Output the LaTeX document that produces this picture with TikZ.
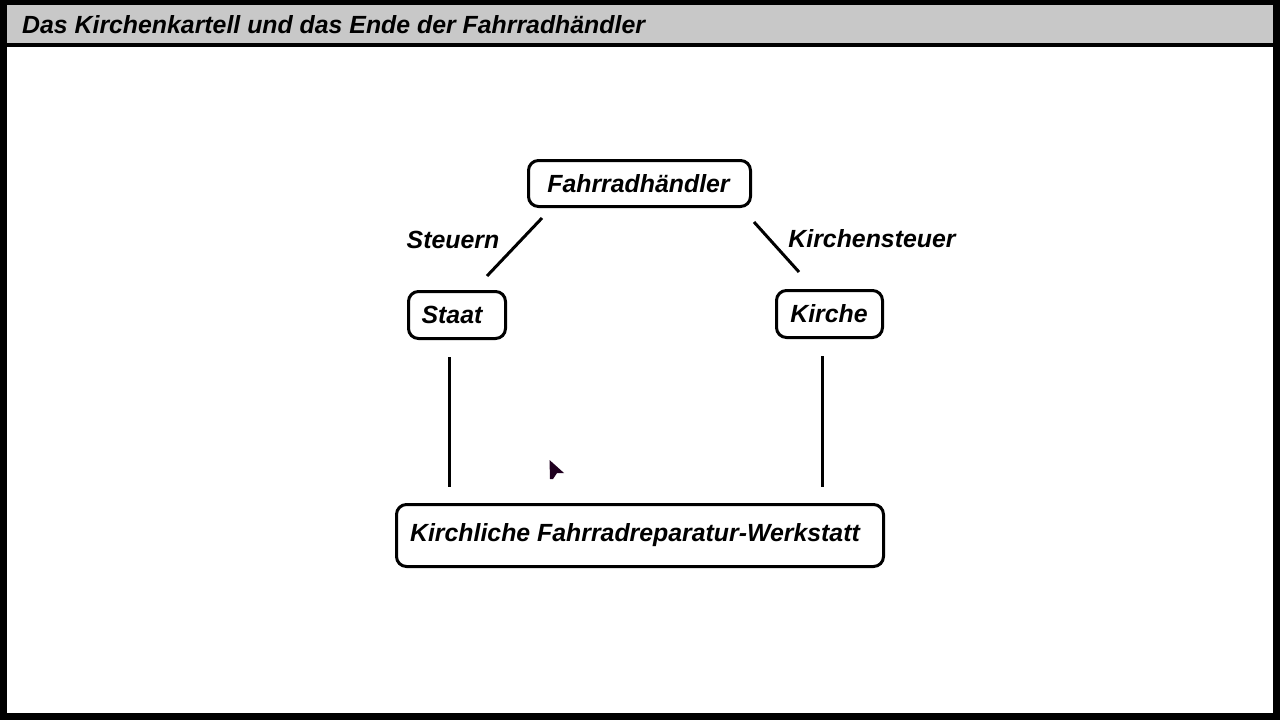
\documentclass[tikz,border=0pt]{standalone}
\usepackage{fontspec}
\setmainfont{Liberation Sans}
\usetikzlibrary{shapes, arrows}
\definecolor{titlegrey}{RGB}{200,200,200}
\tikzstyle{kasten} = [rectangle, draw, line width=3pt, rounded corners=10pt, text centered, inner sep=0pt, font=\fontsize{24.85}{30}\selectfont\bfseries\itshape]
\tikzstyle{beschriftung} = [draw=none, inner sep=0pt, font=\fontsize{24.85}{30}\selectfont\bfseries\itshape]
\tikzstyle{connector} = [draw, line width=3pt]

\begin{document}
\begin{tikzpicture}[x=1pt, y=-1pt] %ein Punkt entspricht einem Pixel der Vorlage
\useasboundingbox (0,0) rectangle (1280,720);

%---------------------------------------------
%Rahmen und Titelleiste
%---------------------------------------------
\fill [black] (0,0) rectangle (1280,720);
\fill [white] (7,47) rectangle (1273,713);
\node [rectangle, fill=titlegrey, minimum width=1266pt, minimum height=38pt, inner sep=0pt, anchor=north west] (leiste) at (7,5) {};
\node [beschriftung, anchor=west] (titel) at (22,24.5) {Das Kirchenkartell und das Ende der Fahrradhändler};

%---------------------------------------------
%Kästen
%---------------------------------------------
\node [kasten, minimum width=222pt, minimum height=46pt] (haendler) at (639.5,183.5) {Fahrradhändler\hspace*{2pt}};
\node [kasten, minimum width=97pt, minimum height=47pt] (staat) at (457,315) {Staat\hspace*{10pt}};
\node [kasten, minimum width=106pt, minimum height=47pt] (kirche) at (829.5,314) {Kirche\hspace*{1pt}};
\node [kasten, minimum width=487pt, minimum height=62pt] (werkstatt) at (640,535.5) {Kirchliche Fahrradreparatur-Werkstatt\hspace*{10pt}};

%---------------------------------------------
%Legenden
%---------------------------------------------
\node [beschriftung] (steuern) at (453,240) {Steuern};
\node [beschriftung] (kirchensteuer) at (872,238.5) {Kirchensteuer};

%---------------------------------------------
%Verbindungen
%---------------------------------------------
\path [connector] ([xshift=15pt, yshift=-10pt]haendler.south west) -- ([xshift=-20pt, yshift=14pt]staat.north east);
\path [connector] ([xshift=2pt, yshift=-14pt]haendler.south east) -- ([xshift=-30.5pt, yshift=17pt]kirche.north);
\path [connector] ([xshift=-8pt, yshift=-17pt]staat.south) -- ([xshift=-191pt, yshift=16pt]werkstatt.north);
\path [connector] ([xshift=-7.5pt, yshift=-17pt]kirche.south) -- ([xshift=182pt, yshift=16pt]werkstatt.north);

%Mauszeiger
\fill [black!75!violet] (549.5,460) -- (564,473) -- (557,473) -- (553,479) -- (550,479) -- cycle;
\end{tikzpicture}
\end{document}
